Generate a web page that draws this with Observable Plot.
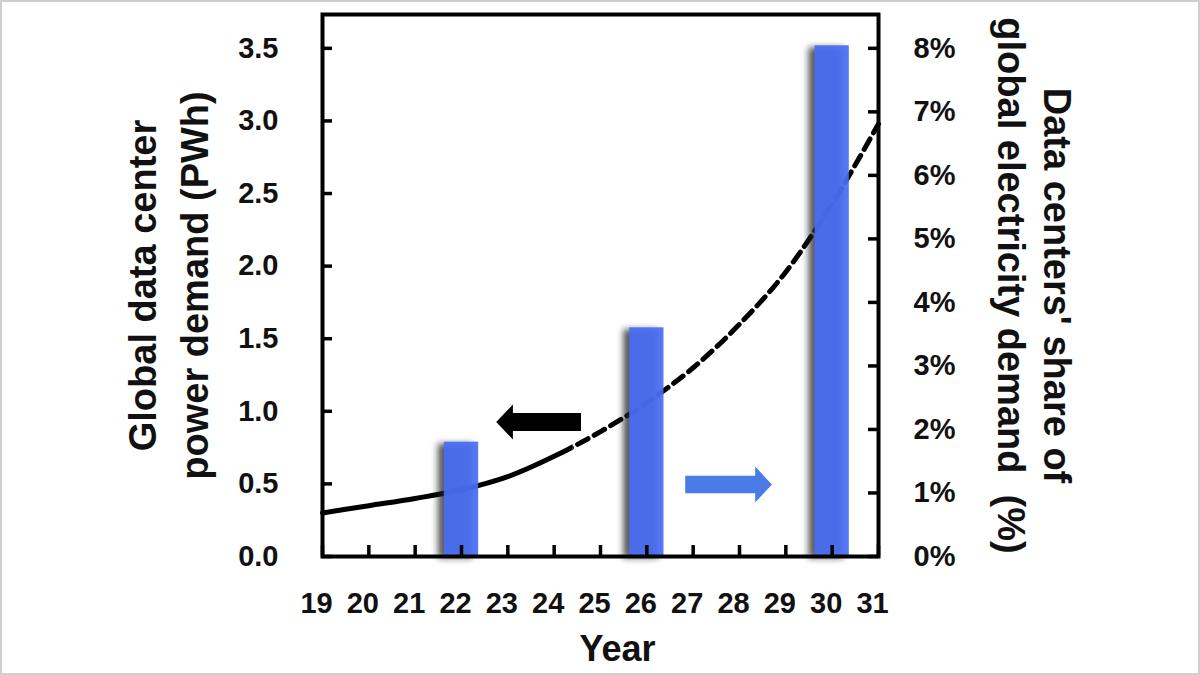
<!DOCTYPE html>
<html><head><meta charset="utf-8">
<script src="https://cdn.jsdelivr.net/npm/d3@7"></script>
<script src="https://cdn.jsdelivr.net/npm/@observablehq/plot@0.6"></script>
<style>
html,body{margin:0;padding:0;background:#fff;}
#wrap{position:relative;width:1200px;height:675px;overflow:hidden;background:#fff;}
#border{position:absolute;left:0;top:0;width:1200px;height:675px;box-sizing:border-box;border:2px solid #cfcfcf;pointer-events:none;}
</style></head><body>
<div id="wrap"><div id="chart"></div><div id="border"></div></div>
<script>
// ---- data ----
const years      = [19, 20, 21, 22, 23, 24, 25, 26, 27, 28, 29, 30, 31];
const demandPWh  = [0.30, 0.35, 0.40, 0.46, 0.55, 0.69, 0.86, 1.06, 1.30, 1.60, 1.96, 2.43, 2.98];
const projectionStart = 24.4;          // solid before, dashed after
const barYears   = [22, 26, 30];
const sharePct   = [1.8, 3.6, 8.04];
const xTicks     = [19, 20, 21, 22, 23, 24, 25, 26, 27, 28, 29, 30, 31];
const leftTicks  = [0, 0.5, 1.0, 1.5, 2.0, 2.5, 3.0, 3.5];
const rightTicks = [0, 1, 2, 3, 4, 5, 6, 7, 8];
const pwhPerPct  = 3.5 / 8;            // right axis: 8% aligns with 3.5 PWh
const leftTitle  = ["Global data center", "power demand (PWh)"];
const rightTitle = ["Data centers' share of", "global electricity demand  (%)"];
const xTitle     = "Year";
// annotation arrows (year / PWh units)
const arrowSpecs = [
  {color: "#000000", tail: 24.59, base: 23.12, tip: 22.76, y: 0.923, body: 0.062, head: 0.12},
  {color: "#4a7be6", tail: 26.84, base: 28.35, tip: 28.71, y: 0.492, body: 0.060, head: 0.124}
];

// ---- derived tables ----
const curve  = years.map((yr, i) => ({year: yr, v: demandPWh[i]}));
const bars   = barYears.map((yr, i) => ({year: yr, v: sharePct[i] * pwhPerPct}));
const barHalf = 0.37;
const arrowPolys = arrowSpecs.map(a => [
  {x: a.tail, y1: a.y - a.body, y2: a.y + a.body},
  {x: a.base, y1: a.y - a.body, y2: a.y + a.body},
  {x: a.base, y1: a.y - a.head, y2: a.y + a.head},
  {x: a.tip,  y1: a.y, y2: a.y}
]);

const FONT = "'Liberation Sans', Arial, sans-serif";
const W = 1200, H = 675;
const mL = 322, mR = 322, mT = 14, mB = 119;
const innerW = W - mL - mR, innerH = H - mT - mB;
const txt = {fontWeight: "bold", fill: "#111", lineAnchor: "middle", textAnchor: "middle"};

const plot = Plot.plot({
  width: W, height: H,
  marginLeft: mL, marginRight: mR, marginTop: mT, marginBottom: mB,
  style: {fontFamily: FONT, background: "transparent", overflow: "visible"},
  x: {domain: [19, 31], axis: null},
  y: {domain: [0, 3.733], axis: null},
  marks: [
    Plot.line(curve, {x: "year", y: "v", curve: "monotone-x", stroke: "#000", strokeWidth: 5}),
    Plot.line(curve, {x: "year", y: "v", curve: "monotone-x", stroke: "#000", strokeWidth: 5, strokeDasharray: "12,7"}),
    ...arrowPolys.map((p, i) => Plot.areaY(p, {x: "x", y1: "y1", y2: "y2", fill: arrowSpecs[i].color, curve: "linear"})),
    Plot.rectY(bars, {x1: d => d.year - barHalf, x2: d => d.year + barHalf, y1: 0, y2: "v", fill: "#222", fillOpacity: 0.75, dx: -6, dy: 2}),
    Plot.rectY(bars, {x1: d => d.year - barHalf, x2: d => d.year + barHalf, y1: 0, y2: "v", fill: "#4a6ef4", fillOpacity: 0.93}),
    Plot.tickY(leftTicks, {y: d => d, insetRight: innerW - 10, stroke: "#000", strokeWidth: 3.5}),
    Plot.tickY(rightTicks.map(d => d * pwhPerPct), {y: d => d, insetLeft: innerW - 10, stroke: "#000", strokeWidth: 3.5}),
    Plot.tickX(xTicks, {x: d => d, insetTop: innerH - 11, stroke: "#000", strokeWidth: 3.5}),
    Plot.frame({stroke: "#000", strokeWidth: 4}),
    Plot.axisY(leftTicks, {anchor: "left", tickSize: 0, tickPadding: 44, tickFormat: d => d.toFixed(1), fontSize: 29, fontWeight: "bold", fill: "#111", label: null}),
    Plot.axisY(rightTicks.map(d => d * pwhPerPct), {anchor: "right", tickSize: 0, tickPadding: 35, tickFormat: d => Math.round(d / pwhPerPct) + "%", fontSize: 29, fontWeight: "bold", fill: "#111", label: null}),
    Plot.axisX(xTicks, {anchor: "bottom", tickSize: 0, tickPadding: 36, dx: -6, tickFormat: d => String(d), fontSize: 29, fontWeight: "bold", fill: "#111", label: null}),
    Plot.text([xTitle], {frameAnchor: "bottom", dy: 93, dx: 17, fontSize: 36, ...txt}),
    Plot.text([leftTitle[0]], {frameAnchor: "left", rotate: -90, dx: -179, fontSize: 38, ...txt}),
    Plot.text([leftTitle[1]], {frameAnchor: "left", rotate: -90, dx: -127, fontSize: 38, ...txt}),
    Plot.text([rightTitle[0]], {frameAnchor: "right", rotate: 90, dx: 178, fontSize: 38, ...txt}),
    Plot.text([rightTitle[1]], {frameAnchor: "right", rotate: 90, dx: 132, fontSize: 38, ...txt})
  ]
});

// post-render styling: solid/dashed split of the curve, soft shadows
const svg = d3.select(plot);
const xs = plot.scale("x").apply(projectionStart);
const defs = svg.insert("defs", ":first-child");
defs.append("filter").attr("id", "softShadow").attr("filterUnits", "userSpaceOnUse")
  .attr("x", 0).attr("y", 0).attr("width", W).attr("height", H)
  .append("feGaussianBlur").attr("stdDeviation", 3);
defs.append("clipPath").attr("id", "clipSolid").append("rect").attr("x", 0).attr("y", 0).attr("width", xs).attr("height", H);
defs.append("clipPath").attr("id", "clipDash").append("rect").attr("x", xs).attr("y", 0).attr("width", W - xs).attr("height", H);
const lines = svg.selectAll('g[aria-label="line"]').nodes();
if (lines.length >= 2) {
  d3.select(lines[0]).attr("clip-path", "url(#clipSolid)");
  d3.select(lines[1]).attr("clip-path", "url(#clipDash)");
}
const rects = svg.selectAll('g[aria-label="rect"]').nodes();
if (rects.length >= 2) d3.select(rects[0]).attr("filter", "url(#softShadow)");

document.getElementById("chart").appendChild(plot);
</script>
</body></html>
